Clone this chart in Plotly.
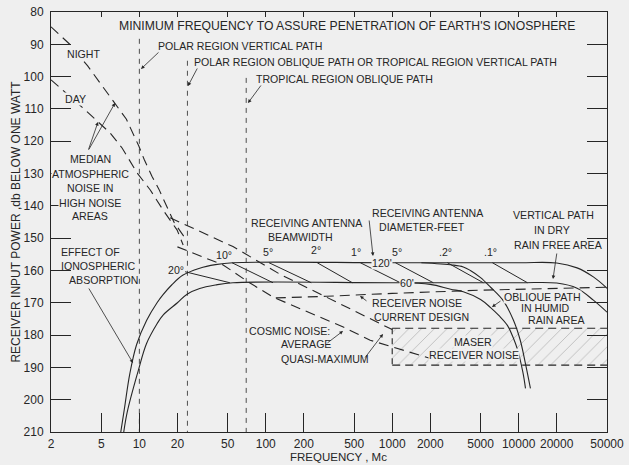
import math
import plotly.graph_objects as go

# ---------------- data ----------------
x_ticks = [2, 5, 10, 20, 50, 100, 200, 500, 1000, 2000, 5000, 10000, 20000, 50000]
y_ticks = [80, 90, 100, 110, 120, 130, 140, 150, 160, 170, 180, 190, 200, 210]

# median atmospheric noise, high-noise areas
night_f = [2, 2.8, 3.9, 5.4, 6.3, 7.9, 9.9, 10.9, 12.6, 14.3, 16.5, 18.8, 23.4]
night_db = [84.6, 89.9, 96.7, 104.5, 107.9, 113.2, 121.5, 125.6, 130.9, 134.9, 140.2, 145.1, 150.4]
day_f = [2, 2.58, 3.58, 4.71, 5.86, 7.3, 9.6, 12.2, 15.4, 19.9, 22.2]
day_db = [101.0, 104.7, 109.7, 114.0, 117.4, 122.1, 129.8, 135.1, 141.3, 147.5, 152.1]

# cosmic noise
cosmic_max_f = [17.5, 30, 55, 130, 490, 1000]
cosmic_max_db = [143.7, 147.8, 152.6, 161.2, 172.3, 178.3]
cosmic_avg_f = [20, 46, 75, 115, 410, 670, 1300, 2100]
cosmic_avg_db = [152.7, 158.3, 163.9, 168.3, 177.5, 181.6, 185.0, 187.5]

# receiver noise, current design
rx_f = [120, 300, 1000, 5000, 50000]
rx_db = [168.5, 168.0, 167.1, 166.1, 165.2]

# maser receiver noise band
maser_f = [1000, 50000]
maser_db = [177.9, 189.3]

# received signal: vertical path, dry rain-free area (upper) / oblique path (lower)
upper_f = [7.0, 7.6, 8.4, 9.5, 11.4, 13.8, 15.4, 18, 22, 30, 40, 55, 1000, 10000, 20000, 29000, 39000, 50000]
upper_db = [212, 203, 192, 183, 175.5, 170, 167.5, 164.5, 161.5, 159.3, 158.2, 157.6, 157.6, 157.6, 157.7, 159.2, 162.0, 165.5]
lower_f = [7.4, 8.0, 9.8, 11.4, 13.8, 15.4, 20, 24, 30, 40, 55, 1000, 10000, 20000, 29000, 39000, 50000]
lower_db = [212, 204, 191, 182.6, 176.5, 173.8, 170.0, 167.3, 165.6, 164.5, 163.8, 163.8, 163.8, 163.9, 165.5, 169.2, 172.9]

# antenna diameter roll-off curves
ant120_f = [1700, 3000, 3650, 4150, 5000, 6000, 7600, 9100, 10300, 11300, 12400]
ant120_db = [157.6, 158.3, 158.9, 160.0, 162.2, 165.2, 169.5, 175.4, 181.6, 188.7, 196.5]
ant60_f = [1160, 2000, 2900, 3650, 5000, 6000, 7000, 8150, 9100, 9800, 10800, 11330]
ant60_db = [163.8, 164.3, 165.8, 166.6, 169.0, 171.5, 174.0, 177.0, 181.0, 184.5, 191.5, 196.5]

# receiving-antenna beamwidth segments
bw_labels = ["20°", "10°", "5°", "2°", "1°", "5°", ".2°", ".1°"]
bw_f0 = [23, 54, 106, 255, 559, 1059, 2730, 6200]
bw_f1 = [52, 114, 229, 484, 1160, 2115, 5260, 11740]
bw_db0 = [160.4, 157.6, 157.6, 157.6, 157.6, 157.6, 157.6, 157.6]
bw_db1 = [163.8, 163.8, 163.8, 163.8, 163.8, 163.8, 163.8, 163.8]

# minimum frequency to penetrate the ionosphere
iono_f = [10, 24, 70]
iono_top_db = [88.3, 95.1, 100.4]

# ---------------- styling ----------------
INK = "#262626"
BG = "#efefef"
FONT = "Liberation Sans"
W, H = 629, 465
L, R, T, B = 51, 607, 12, 432  # plot area in window pixels
LBL = 10.6


def pp(px, py):
    return (px - L) / (R - L), (B - py) / (B - T)


fig = go.Figure()


def add_line(x, y, dash=None, width=1.1, shape="linear"):
    fig.add_trace(go.Scatter(x=x, y=y, mode="lines", showlegend=False, hoverinfo="skip",
                             line=dict(color=INK, width=width, dash=dash, shape=shape)))


LONG = "10px,6px"

# maser hatched band
fig.add_trace(go.Scatter(
    x=[maser_f[0], maser_f[1], maser_f[1], maser_f[0], maser_f[0]],
    y=[maser_db[0], maser_db[0], maser_db[1], maser_db[1], maser_db[0]],
    mode="lines", fill="toself", fillcolor=BG, line=dict(width=0),
    fillpattern=dict(shape="/", fgcolor="#888", bgcolor=BG, size=9, solidity=0.1),
    showlegend=False, hoverinfo="skip"))
add_line([maser_f[0], maser_f[1]], [maser_db[0], maser_db[0]], dash="8px,5px")
add_line([maser_f[0], maser_f[1]], [maser_db[1], maser_db[1]], dash="8px,5px")
add_line([maser_f[0], maser_f[0]], [maser_db[0], maser_db[1]], dash="6px,4px")

# ionosphere penetration frequencies
for f, top in zip(iono_f, iono_top_db):
    add_line([f, f], [top, 210], dash="5px,5px", width=0.8)

# noise lines
add_line(night_f, night_db, dash=LONG)
add_line(day_f, day_db, dash=LONG)
add_line(cosmic_max_f, cosmic_max_db, dash=LONG)
add_line(cosmic_avg_f, cosmic_avg_db, dash=LONG)
add_line(rx_f, rx_db, dash=LONG)

# signal curves
add_line(upper_f, upper_db, shape="spline")
add_line(lower_f, lower_db, shape="spline")
add_line(ant120_f, ant120_db, shape="spline")
add_line(ant60_f, ant60_db, shape="spline")

# beamwidth segments
for f0, f1, d0, d1 in zip(bw_f0, bw_f1, bw_db0, bw_db1):
    add_line([f0, f1], [d0, d1], width=1.0)

# dummy trace for top tick axis
fig.add_trace(go.Scatter(x=[x_ticks[0], x_ticks[-1]], y=[80, 80], xaxis="x2", mode="lines",
                         line=dict(width=0), opacity=0, showlegend=False, hoverinfo="skip"))

ann = []


def text(s, px, py, anchor="left", size=LBL, bg=None):
    x, y = pp(px, py)
    d = dict(text=s, x=x, y=y, xref="paper", yref="paper", xanchor=anchor, yanchor="middle",
             showarrow=False, font=dict(family=FONT, size=size, color=INK), borderpad=0)
    if bg:
        d.update(bgcolor=bg)
    ann.append(d)


def arrow(tail, tip):
    x, y = pp(*tip)
    ann.append(dict(text="", x=x, y=y, xref="paper", yref="paper",
                    ax=tail[0] - tip[0], ay=tail[1] - tip[1], showarrow=True,
                    arrowhead=2, arrowsize=0.9, arrowwidth=0.8, arrowcolor=INK))


text("MINIMUM FREQUENCY TO ASSURE PENETRATION OF EARTH'S IONOSPHERE", 347, 26, "center", 12.2)
text("POLAR REGION VERTICAL PATH", 157, 46)
text("POLAR REGION OBLIQUE PATH OR TROPICAL REGION VERTICAL PATH", 193, 62)
text("TROPICAL REGION OBLIQUE PATH", 255, 79)
text("NIGHT", 83, 54, "center", bg=BG)
text("DAY", 75, 99, "center", bg=BG)
for s, yy in zip(["MEDIAN", "ATMOSPHERIC", "NOISE IN", "HIGH NOISE", "AREAS"], [159, 174, 188, 203, 216]):
    text(s, 90, yy, "center", bg=BG)
text("EFFECT OF", 60, 252)
text("IONOSPHERIC", 60, 266)
text("ABSORPTION", 68, 280)
text("RECEIVING ANTENNA", 250, 223)
text("BEAMWIDTH", 267, 237)
text("RECEIVING ANTENNA", 371, 213)
text("DIAMETER-FEET", 378, 227)
text("VERTICAL PATH", 512, 215)
text("IN DRY", 533, 230)
text("RAIN FREE AREA", 513, 245)
text("RECEIVER NOISE", 371, 303)
text("CURRENT DESIGN", 373, 317)
text("COSMIC NOISE:", 248, 331)
text("AVERAGE", 280, 344)
text("QUASI-MAXIMUM", 280, 359)
text("OBLIQUE PATH", 503, 297, bg=BG)
text("IN HUMID", 520, 307.5, bg=BG)
text("RAIN AREA", 527, 319.5, bg=BG)
text("MASER", 473, 342, "center", bg=BG)
text("RECEIVER NOISE", 474, 355, "center", bg=BG)
text("120'", 382, 263, "center", bg=BG)
text("60'", 407, 283, "center", bg=BG)
text("FREQUENCY , Mc", 338, 457, "center", 11.5)

bw_label_px = [(176, 270), (224, 255), (268, 252), (316, 250), (356, 252), (397, 252), (445, 252), (490, 252)]
for s, (bx, by) in zip(bw_labels, bw_label_px):
    text(s, bx, by, "center")

arrow((160, 51), (141, 69))
arrow((198, 67), (188, 86))
arrow((262, 84), (248, 103))
arrow((88, 151), (115, 103))
arrow((88, 151), (98, 122))
arrow((88, 287), (133, 363))
arrow((369, 219), (373, 256))
arrow((557, 252), (553, 279))
arrow((368, 302), (360, 296))
arrow((326, 344), (343, 331))
arrow((364, 359), (383, 334))
arrow((502, 300), (492, 307))

tickfont = dict(family=FONT, size=12, color=INK)
fig.update_layout(
    width=W, height=H,
    margin=dict(l=L, r=W - R, t=T, b=H - B, autoexpand=False),
    paper_bgcolor=BG, plot_bgcolor=BG, showlegend=False,
    font=dict(family=FONT, color=INK),
    annotations=ann,
    xaxis=dict(type="log", range=[math.log10(x_ticks[0]), math.log10(x_ticks[-1])],
               tickvals=x_ticks, ticktext=[str(v) for v in x_ticks], tickfont=tickfont,
               ticks="inside", ticklen=19, tickwidth=1, tickcolor=INK, automargin=False,
               ticklabeloverflow="allow", ticklabelstandoff=1,
               showline=True, linecolor=INK, linewidth=1, mirror=True,
               showgrid=False, zeroline=False),
    xaxis2=dict(type="log", range=[math.log10(x_ticks[0]), math.log10(x_ticks[-1])],
                overlaying="x", side="top", tickvals=x_ticks[1:-1], showticklabels=False,
                ticks="inside", ticklen=5, tickwidth=1, tickcolor=INK, automargin=False,
                showline=False, showgrid=False, zeroline=False),
    yaxis=dict(range=[210, 80], tickvals=y_ticks, ticktext=[str(v) for v in y_ticks], tickfont=tickfont,
               ticks="inside", ticklen=20, tickwidth=1, tickcolor=INK, automargin=False,
               ticklabeloverflow="allow",
               showline=True, linecolor=INK, linewidth=1, mirror="ticks",
               showgrid=False, zeroline=False, ticklabelstandoff=4,
               title=dict(text="RECEIVER INPUT POWER ,db BELOW ONE WATT",
                          font=dict(family=FONT, size=12, color=INK), standoff=0)),
)

fig.write_html("out.html", config={"displayModeBar": False},
               post_script="document.body.style.margin='0px';")
